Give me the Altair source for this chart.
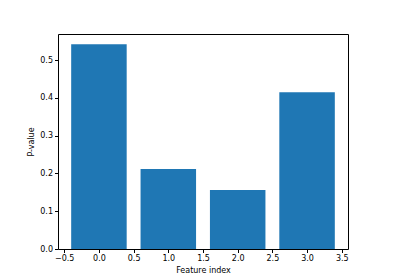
import altair as alt
import pandas as pd

feature_index = [0, 1, 2, 3]
p_values = [0.542, 0.212, 0.156, 0.415]

df = pd.DataFrame({"feature": feature_index, "p": p_values})

font = "DejaVu Sans"

common = dict(grid=False, tickSize=3.5, labelPadding=2, domain=False,
              tickColor="black", labelColor="black", titleColor="black",
              labelFont=font, titleFont=font, labelFontSize=8, titleFontSize=8,
              titleFontWeight="normal", offset=0)

chart = alt.Chart(df).transform_calculate(
    x0="datum.feature - 0.4", x1="datum.feature + 0.4"
).mark_bar(color="#1f77b4").encode(
    x=alt.X("x0:Q", scale=alt.Scale(domain=[-0.59, 3.59], nice=False, zero=False),
            axis=alt.Axis(title="Feature index", values=[-0.5, 0, 0.5, 1, 1.5, 2, 2.5, 3, 3.5],
                          format=".1f", titlePadding=4, **common)),
    x2="x1:Q",
    y=alt.Y("p:Q", scale=alt.Scale(domain=[0, 0.569], nice=False),
            axis=alt.Axis(title="P-value", values=[0, 0.1, 0.2, 0.3, 0.4, 0.5],
                          format=".1f", titlePadding=4, **common)),
    y2=alt.Y2(datum=0),
).properties(
    width=290, height=215,
    autosize=alt.AutoSizeParams(type="none"),
    padding={"left": 58, "top": 34, "right": 52, "bottom": 31},
).configure(background="white").configure_view(stroke="black", strokeWidth=1)

chart.save("out.html", embed_options={"renderer": "svg", "actions": False})
